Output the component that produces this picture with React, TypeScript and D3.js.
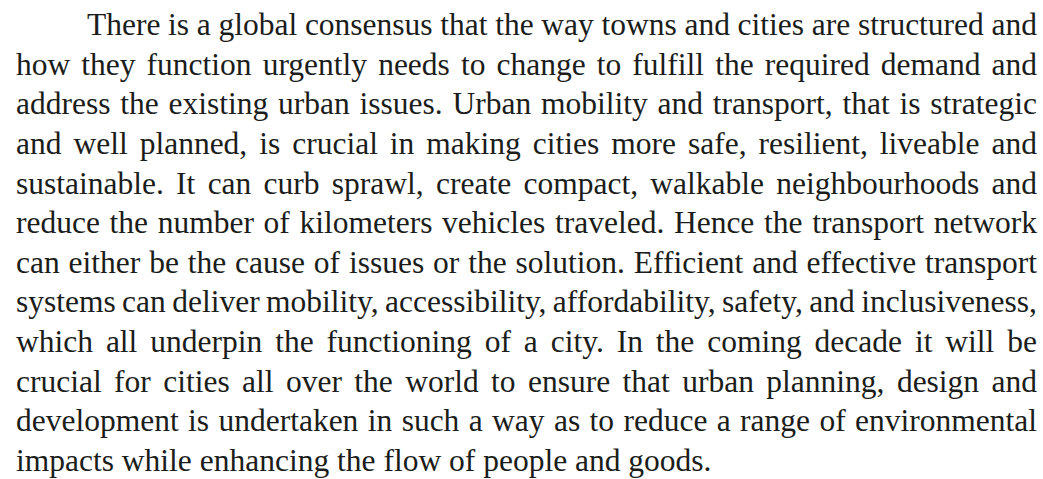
import React, { useRef, useEffect } from 'react';
import * as d3 from 'd3';

// paragraph, one entry per printed line
const lines: string[] = [
  'There is a global consensus that the way towns and cities are structured and',
  'how they function urgently needs to change to fulfill the required demand and',
  'address the existing urban issues. Urban mobility and transport, that is strategic',
  'and well planned, is crucial in making cities more safe, resilient, liveable and',
  'sustainable. It can curb sprawl, create compact, walkable neighbourhoods and',
  'reduce the number of kilometers vehicles traveled. Hence the transport network',
  'can either be the cause of issues or the solution. Efficient and effective transport',
  'systems can deliver mobility, accessibility, affordability, safety, and inclusiveness,',
  'which all underpin the functioning of a city. In the coming decade it will be',
  'crucial for cities all over the world to ensure that urban planning, design and',
  'development is undertaken in such a way as to reduce a range of environmental',
  'impacts while enhancing the flow of people and goods.',
];

const width = 1043;
const height = 479;

const App: React.FC = () => {
  const svgRef = useRef<SVGSVGElement>(null);

  useEffect(() => {
    const svg = d3.select(svgRef.current);
    svg.selectAll('*').remove();

    const fontSize = 31.5;
    const left = 16;
    const right = 1037;
    const indent = 71;

    const y = d3
      .scalePoint<number>()
      .domain(d3.range(lines.length))
      .range([35, 471]);

    const g = svg
      .append('g')
      .attr('font-family', '"Liberation Serif", "Times New Roman", serif')
      .attr('font-size', fontSize)
      .attr('fill', '#1b1d1a');

    lines.forEach((line, i) => {
      const words = line.split(' ');
      const x0 = i === 0 ? left + indent : left;
      const text = g.append('text').attr('y', y(i) as number);
      const spans = words.map((w) => text.append('tspan').text(w));
      const widths = spans.map((s) => (s.node() as SVGTSpanElement).getComputedTextLength());
      const total = d3.sum(widths);
      const last = i === lines.length - 1;
      const space = fontSize * 0.25;
      // justify every line but the last one
      const gap = last || words.length < 2 ? space : (right - x0 - total) / (words.length - 1);
      let x = x0;
      spans.forEach((s, k) => {
        s.attr('x', x);
        x += widths[k] + gap;
      });
    });
  }, []);

  return (
    <svg
      ref={svgRef}
      width={width}
      height={height}
      style={{ position: 'absolute', left: 0, top: 0, background: '#fff' }}
    />
  );
};

export default App;
